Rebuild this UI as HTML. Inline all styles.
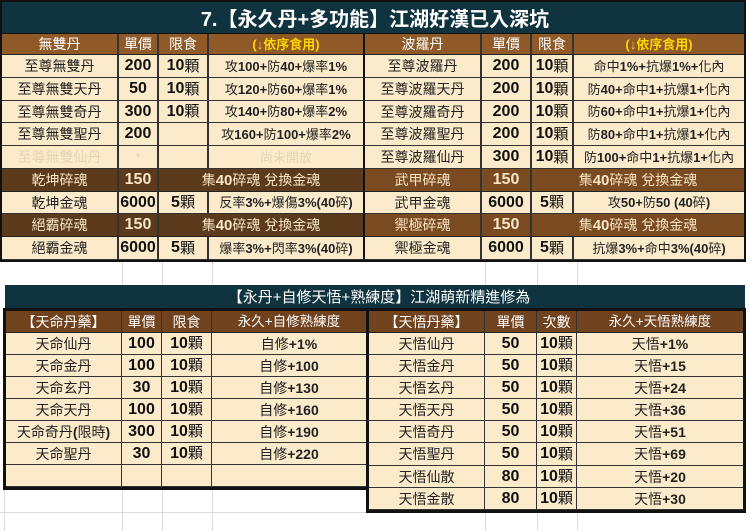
<!DOCTYPE html>
<html><head><meta charset="utf-8">
<style>
body{margin:0;width:750px;height:531px;position:relative;background:#fff;overflow:hidden;font-family:"Liberation Sans","Noto Sans CJK TC",sans-serif}
.c{position:absolute;box-sizing:border-box;display:flex;align-items:center;justify-content:center;white-space:nowrap;background:#fcebcb;color:#222;font-size:14px;border-right:2px solid #333;border-bottom:1px solid #333;line-height:1}
.h{background:#8f5a28;color:#fff;border-bottom-color:#222}
.lh{background:#70421d;color:#fff;border-bottom-color:#222}
.d{background:#5c3b1c;color:#f8e6c4;border-bottom-color:#222}
.d2{background:#7a4a21;color:#f8e6c4;border-bottom-color:#222}
.n{font-weight:bold;font-size:16px;color:#111}
.c.d.n,.c.d2.n{color:#f8e6c4}
.n span{font-weight:normal;font-size:15px}
.e{font-size:13px}
.e b{font-weight:bold}
.y{color:#ffd400;font-weight:bold;font-size:13px}
.f{color:#e6d4b4}
.nr{border-right:none}
.lo{border-right-width:1px}
.lo.e{font-size:14px}
.A{left:2px;width:117px}.B{left:119px;width:40px}.C{left:159px;width:50px}.D{left:209px;width:156px;border-right-color:#111}
.E{left:365px;width:117px}.F{left:482px;width:50px}.G{left:532px;width:42px}.H{left:574px;width:170px;border-right:none}
.CD{left:159px;width:206px;border-right-color:#111}.GH{left:532px;width:212px;border-right:none}
.th{top:34px;height:21px}
.r1{top:55px;height:23px}.r2{top:78px;height:23px}.r3{top:101px;height:22px}.r4{top:123px;height:23px}.r5{top:146px;height:23px}
.r6{top:169px;height:23px}.r7{top:192px;height:22px}.r8{top:214px;height:23px}.r9{top:237px;height:23px}
.la{left:6px;width:116px}.lb{left:122px;width:40px}.lc{left:162px;width:50px}.ld{left:212px;width:154px;border-right:none}
.ra{left:369px;width:116px}.rb{left:485px;width:52px}.rc{left:537px;width:40px}.rd{left:577px;width:166px;border-right:none}
.q0{top:311px;height:22px}
.q1{top:333px;height:22px}.q2{top:355px;height:22px}.q3{top:377px;height:22px}.q4{top:399px;height:22px}
.q5{top:421px;height:22px}.q6{top:443px;height:22px}.q7{top:465px;height:22px}
.m6{top:443px;height:23px}.m7{top:466px;height:22px}.m8{top:488px;height:22px}
.g{position:absolute;background:#dcdcdc}
.box{position:absolute;box-sizing:border-box;border:2px solid #111;background:transparent}
.box3{position:absolute;box-sizing:border-box;border:3px solid #111;background:transparent}
</style></head>
<body>
<div class="g" style="left:122px;top:262px;width:1px;height:24px"></div>
<div class="g" style="left:162px;top:262px;width:1px;height:24px"></div>
<div class="g" style="left:212px;top:262px;width:1px;height:24px"></div>
<div class="g" style="left:485px;top:262px;width:1px;height:24px"></div>
<div class="g" style="left:537px;top:262px;width:1px;height:24px"></div>
<div class="g" style="left:577px;top:262px;width:1px;height:24px"></div>
<div class="g" style="left:4px;top:490px;width:1px;height:41px"></div>
<div class="g" style="left:122px;top:490px;width:1px;height:41px"></div>
<div class="g" style="left:162px;top:490px;width:1px;height:41px"></div>
<div class="g" style="left:212px;top:490px;width:1px;height:41px"></div>
<div class="g" style="left:0px;top:512px;width:366px;height:1px"></div>
<div class="g" style="left:485px;top:513px;width:1px;height:18px"></div>
<div class="g" style="left:537px;top:513px;width:1px;height:18px"></div>
<div class="g" style="left:577px;top:513px;width:1px;height:18px"></div>

<div style="position:absolute;left:2px;top:2px;width:742px;height:32px;box-sizing:border-box;background:#0f3440;border-bottom:1px solid #111;color:#fff;font-size:20px;font-weight:bold;display:flex;align-items:center;justify-content:center;white-space:nowrap;padding-left:4px">7.【永久丹+多功能】江湖好漢已入深坑</div>

<div class="c h A th">無雙丹</div>
<div class="c h B th">單價</div>
<div class="c h C th">限食</div>
<div class="c h D th"><span class="y">(↓依序食用)</span></div>
<div class="c h E th">波羅丹</div>
<div class="c h F th">單價</div>
<div class="c h G th">限食</div>
<div class="c h H th"><span class="y">(↓依序食用)</span></div>

<div class="c A r1">至尊無雙丹</div>
<div class="c B r1 n">200</div>
<div class="c C r1 n">10<span>顆</span></div>
<div class="c D r1 e">攻<b>100+</b>防<b>40+</b>爆率<b>1%</b></div>
<div class="c E r1">至尊波羅丹</div>
<div class="c F r1 n">200</div>
<div class="c G r1 n">10<span>顆</span></div>
<div class="c H r1 e">命中<b>1%+</b>抗爆<b>1%+</b>化內</div>

<div class="c A r2">至尊無雙天丹</div>
<div class="c B r2 n">50</div>
<div class="c C r2 n">10<span>顆</span></div>
<div class="c D r2 e">攻<b>120+</b>防<b>60+</b>爆率<b>1%</b></div>
<div class="c E r2">至尊波羅天丹</div>
<div class="c F r2 n">200</div>
<div class="c G r2 n">10<span>顆</span></div>
<div class="c H r2 e">防<b>40+</b>命中<b>1+</b>抗爆<b>1+</b>化內</div>

<div class="c A r3">至尊無雙奇丹</div>
<div class="c B r3 n">300</div>
<div class="c C r3 n">10<span>顆</span></div>
<div class="c D r3 e">攻<b>140+</b>防<b>80+</b>爆率<b>2%</b></div>
<div class="c E r3">至尊波羅奇丹</div>
<div class="c F r3 n">200</div>
<div class="c G r3 n">10<span>顆</span></div>
<div class="c H r3 e">防<b>60+</b>命中<b>1+</b>抗爆<b>1+</b>化內</div>

<div class="c A r4">至尊無雙聖丹</div>
<div class="c B r4 n">200</div>
<div class="c C r4"></div>
<div class="c D r4 e">攻<b>160+</b>防<b>100+</b>爆率<b>2%</b></div>
<div class="c E r4">至尊波羅聖丹</div>
<div class="c F r4 n">200</div>
<div class="c G r4 n">10<span>顆</span></div>
<div class="c H r4 e">防<b>80+</b>命中<b>1+</b>抗爆<b>1+</b>化內</div>

<div class="c A r5 f">至尊無雙仙丹</div>
<div class="c B r5 f" style="font-size:13px">*</div>
<div class="c C r5"></div>
<div class="c D r5 e f">尚未開放</div>
<div class="c E r5">至尊波羅仙丹</div>
<div class="c F r5 n">300</div>
<div class="c G r5 n">10<span>顆</span></div>
<div class="c H r5 e">防<b>100+</b>命中<b>1+</b>抗爆<b>1+</b>化內</div>

<div class="c d A r6">乾坤碎魂</div>
<div class="c d B r6 n">150</div>
<div class="c d CD r6">集<b style="font-size:15px">40</b>碎魂 兌換金魂</div>
<div class="c d2 E r6">武甲碎魂</div>
<div class="c d2 F r6 n">150</div>
<div class="c d2 GH r6">集<b style="font-size:15px">40</b>碎魂 兌換金魂</div>

<div class="c A r7">乾坤金魂</div>
<div class="c B r7 n">6000</div>
<div class="c C r7 n">5<span>顆</span></div>
<div class="c D r7 e">反率<b>3%+</b>爆傷<b>3%(40</b>碎<b>)</b></div>
<div class="c E r7">武甲金魂</div>
<div class="c F r7 n">6000</div>
<div class="c G r7 n">5<span>顆</span></div>
<div class="c H r7 e">攻<b>50+</b>防<b>50 (40</b>碎<b>)</b></div>

<div class="c d A r8">絕霸碎魂</div>
<div class="c d B r8 n">150</div>
<div class="c d CD r8">集<b style="font-size:15px">40</b>碎魂 兌換金魂</div>
<div class="c d2 E r8">禦極碎魂</div>
<div class="c d2 F r8 n">150</div>
<div class="c d2 GH r8">集<b style="font-size:15px">40</b>碎魂 兌換金魂</div>

<div class="c A r9">絕霸金魂</div>
<div class="c B r9 n">6000</div>
<div class="c C r9 n">5<span>顆</span></div>
<div class="c D r9 e">爆率<b>3%+</b>閃率<b>3%(40</b>碎<b>)</b></div>
<div class="c E r9">禦極金魂</div>
<div class="c F r9 n">6000</div>
<div class="c G r9 n">5<span>顆</span></div>
<div class="c H r9 e">抗爆<b>3%+</b>命中<b>3%(40</b>碎<b>)</b></div>

<div class="box" style="left:0;top:0;width:746px;height:262px"></div>

<div style="position:absolute;left:5px;top:285px;width:740px;height:23px;background:#0f3440;color:#fff;font-size:15px;display:flex;align-items:center;justify-content:center;white-space:nowrap;padding-left:8px;box-sizing:border-box">【永丹+自修天悟+熟練度】江湖萌新精進修為</div>

<div class="c lo lh la q0">【天命丹藥】</div>
<div class="c lo lh lb q0">單價</div>
<div class="c lo lh lc q0">限食</div>
<div class="c lo lh ld q0" style="font-size:13.5px">永久+自修熟練度</div>

<div class="c lo la q1">天命仙丹</div><div class="c lo lb q1 n">100</div><div class="c lo lc q1 n">10<span>顆</span></div><div class="c lo ld q1 e">自修<b>+1%</b></div>
<div class="c lo la q2">天命金丹</div><div class="c lo lb q2 n">100</div><div class="c lo lc q2 n">10<span>顆</span></div><div class="c lo ld q2 e">自修<b>+100</b></div>
<div class="c lo la q3">天命玄丹</div><div class="c lo lb q3 n">30</div><div class="c lo lc q3 n">10<span>顆</span></div><div class="c lo ld q3 e">自修<b>+130</b></div>
<div class="c lo la q4">天命天丹</div><div class="c lo lb q4 n">100</div><div class="c lo lc q4 n">10<span>顆</span></div><div class="c lo ld q4 e">自修<b>+160</b></div>
<div class="c lo la q5">天命奇丹<b>(</b>限時<b>)</b></div><div class="c lo lb q5 n">300</div><div class="c lo lc q5 n">10<span>顆</span></div><div class="c lo ld q5 e">自修<b>+190</b></div>
<div class="c lo la q6">天命聖丹</div><div class="c lo lb q6 n">30</div><div class="c lo lc q6 n">10<span>顆</span></div><div class="c lo ld q6 e">自修<b>+220</b></div>
<div class="c lo la q7"></div><div class="c lo lb q7"></div><div class="c lo lc q7"></div><div class="c lo ld q7"></div>

<div class="box3" style="left:3px;top:308px;width:366px;height:182px"></div>

<div class="c lo lh ra q0">【天悟丹藥】</div>
<div class="c lo lh rb q0">單價</div>
<div class="c lo lh rc q0">次數</div>
<div class="c lo lh rd q0" style="font-size:13.5px">永久+天悟熟練度</div>

<div class="c lo ra q1">天悟仙丹</div><div class="c lo rb q1 n">50</div><div class="c lo rc q1 n">10<span>顆</span></div><div class="c lo rd q1 e">天悟<b>+1%</b></div>
<div class="c lo ra q2">天悟金丹</div><div class="c lo rb q2 n">50</div><div class="c lo rc q2 n">10<span>顆</span></div><div class="c lo rd q2 e">天悟<b>+15</b></div>
<div class="c lo ra q3">天悟玄丹</div><div class="c lo rb q3 n">50</div><div class="c lo rc q3 n">10<span>顆</span></div><div class="c lo rd q3 e">天悟<b>+24</b></div>
<div class="c lo ra q4">天悟天丹</div><div class="c lo rb q4 n">50</div><div class="c lo rc q4 n">10<span>顆</span></div><div class="c lo rd q4 e">天悟<b>+36</b></div>
<div class="c lo ra q5">天悟奇丹</div><div class="c lo rb q5 n">50</div><div class="c lo rc q5 n">10<span>顆</span></div><div class="c lo rd q5 e">天悟<b>+51</b></div>
<div class="c lo ra m6">天悟聖丹</div><div class="c lo rb m6 n">50</div><div class="c lo rc m6 n">10<span>顆</span></div><div class="c lo rd m6 e">天悟<b>+69</b></div>
<div class="c lo ra m7">天悟仙散</div><div class="c lo rb m7 n">80</div><div class="c lo rc m7 n">10<span>顆</span></div><div class="c lo rd m7 e">天悟<b>+20</b></div>
<div class="c lo ra m8">天悟金散</div><div class="c lo rb m8 n">80</div><div class="c lo rc m8 n">10<span>顆</span></div><div class="c lo rd m8 e">天悟<b>+30</b></div>

<div class="box3" style="left:366px;top:308px;width:380px;height:205px"></div>
</body></html>
